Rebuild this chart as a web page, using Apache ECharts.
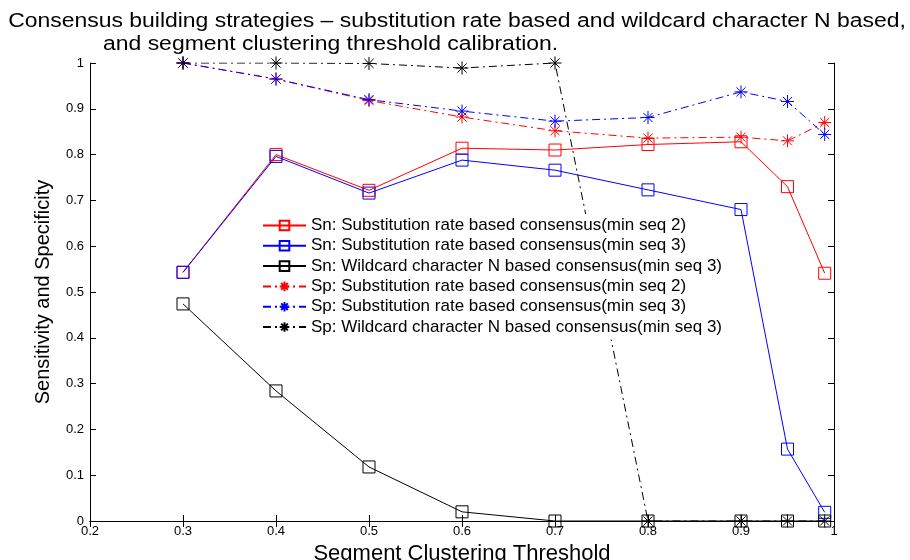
<!DOCTYPE html>
<html>
<head>
<meta charset="utf-8">
<script src="https://cdn.jsdelivr.net/npm/echarts@6/dist/echarts.min.js"></script>
<style>html,body{margin:0;padding:0;background:#fff;}#c{width:910px;height:560px;}</style>
</head>
<body>
<div id="c"></div>
<script>
var thresholds = [0.3, 0.4, 0.5, 0.6, 0.7, 0.8, 0.9, 0.95, 0.99];
var snSubst2 = [0.543, 0.8, 0.722, 0.814, 0.81, 0.822, 0.828, 0.73, 0.541];
var snSubst3 = [0.543, 0.796, 0.716, 0.788, 0.766, 0.723, 0.68, 0.157, 0.019];
var snWild3 = [0.474, 0.284, 0.118, 0.02, 0, 0, 0, 0, 0];
var spSubst2 = [1, 0.965, 0.918, 0.882, 0.852, 0.836, 0.838, 0.83, 0.87];
var spSubst3 = [1, 0.965, 0.92, 0.895, 0.873, 0.881, 0.937, 0.916, 0.844];
var spWild3 = [1, 1, 0.999, 0.989, 1, 0, 0, 0, 0];
var seriesNames = [
  'Sn: Substitution rate based consensus(min seq 2)',
  'Sn: Substitution rate based consensus(min seq 3)',
  'Sn: Wildcard character N based consensus(min seq 3)',
  'Sp: Substitution rate based consensus(min seq 2)',
  'Sp: Substitution rate based consensus(min seq 3)',
  'Sp: Wildcard character N based consensus(min seq 3)'
];
var titleLines = ['Consensus building strategies \u2013 substitution rate based and wildcard character N based,',
                  'and segment clustering threshold calibration.'];
var xName = 'Segment Clustering Threshold';
var yName = 'Sensitivity and Specificity';

var starPath = 'path://M5,0L5,10M0,5L10,5M1.5,1.5L8.5,8.5M1.5,8.5L8.5,1.5';
function pairs(vals){ return thresholds.map(function(x,i){return [x, vals[i]];}); }
function mk(name, vals, color, isSp){
  return {
    name: name, type: 'line', data: pairs(vals),
    symbol: isSp ? starPath : 'rect',
    symbolSize: isSp ? 13 : 12,
    symbolKeepAspect: true,
    lineStyle: {color: color, width: 1, type: isSp ? [8,4,2,4] : 'solid'},
    itemStyle: {color: 'none', borderColor: color, borderWidth: 1},
    emphasis: {disabled: true},
    silent: true
  };
}
var font = 'Liberation Sans, Arial, sans-serif';
var chart = echarts.init(document.getElementById('c'));
chart.setOption({
  animation: false,
  backgroundColor: '#fff',
  graphic: [
    {type: 'text', x: 457, y: 21, scaleX: 1.147, silent: true,
     style: {text: titleLines[0], align: 'center', verticalAlign: 'middle', fill: '#000', font: '20px ' + font}},
    {type: 'text', x: 103, y: 44, scaleX: 1.147, silent: true,
     style: {text: titleLines[1], align: 'left', verticalAlign: 'middle', fill: '#000', font: '20px ' + font}}
  ],
  grid: {left: 90, right: 76, top: 63, bottom: 39, outerBoundsMode: 'none', containLabel: false},
  legend: {
    orient: 'vertical', left: 258, top: 214,
    backgroundColor: '#fff', padding: [3, 6, 4, 4],
    itemWidth: 43, itemHeight: 12, itemGap: 3.3,
    textStyle: {fontFamily: font, fontSize: 17, color: '#000'},
    data: seriesNames
  },
  xAxis: [{
    type: 'value', min: 0.2, max: 1, interval: 0.1, position: 'bottom',
    name: xName, nameLocation: 'middle', nameGap: 20,
    nameTextStyle: {fontFamily: font, fontSize: 22, color: '#000'},
    axisLine: {lineStyle: {color: '#000', width: 1}},
    axisTick: {inside: true, length: 6, lineStyle: {color: '#000'}},
    axisLabel: {fontFamily: font, fontSize: 13, color: '#000', margin: 4,
      formatter: function(v){ return String(Math.round(v*10)/10); }},
    splitLine: {show: false}
  }, {
    type: 'value', min: 0.2, max: 1, interval: 0.1, position: 'top',
    axisLine: {lineStyle: {color: '#000', width: 1}},
    axisTick: {inside: true, length: 6, lineStyle: {color: '#000'}},
    axisLabel: {show: false}, splitLine: {show: false}
  }],
  yAxis: [{
    type: 'value', min: 0, max: 1, interval: 0.1, position: 'left',
    name: yName, nameLocation: 'middle', nameGap: 37,
    nameTextStyle: {fontFamily: font, fontSize: 20, color: '#000'},
    axisLine: {show: true, lineStyle: {color: '#000', width: 1}},
    axisTick: {show: true, inside: true, length: 6, lineStyle: {color: '#000'}},
    axisLabel: {fontFamily: font, fontSize: 13, color: '#000', margin: 6,
      formatter: function(v){ return String(Math.round(v*10)/10); }},
    splitLine: {show: false}
  }, {
    type: 'value', min: 0, max: 1, interval: 0.1, position: 'right',
    axisLine: {show: true, lineStyle: {color: '#000', width: 1}},
    axisTick: {show: true, inside: true, length: 6, lineStyle: {color: '#000'}},
    axisLabel: {show: false}, splitLine: {show: false}
  }],
  series: [
    mk(seriesNames[0], snSubst2, '#ff0000', false),
    mk(seriesNames[1], snSubst3, '#0000ff', false),
    mk(seriesNames[2], snWild3, '#000000', false),
    mk(seriesNames[3], spSubst2, '#ff0000', true),
    mk(seriesNames[4], spSubst3, '#0000ff', true),
    mk(seriesNames[5], spWild3, '#000000', true)
  ]
});
</script>
</body>
</html>
